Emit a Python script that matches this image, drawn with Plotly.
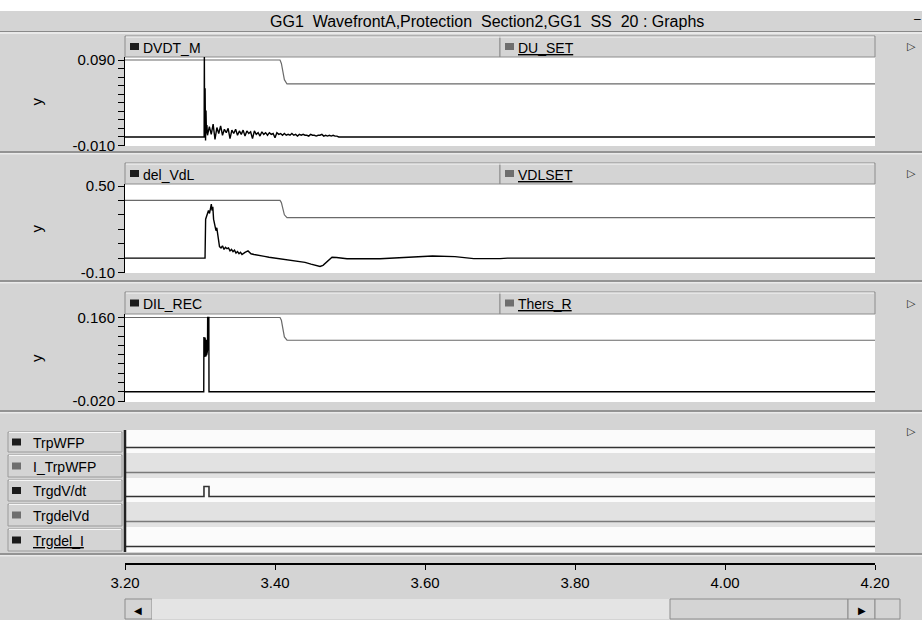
import numpy as np
import plotly.graph_objects as go

W, H = 922, 620

# ----------------------------- data -----------------------------
window_title = "GG1  WavefrontA,Protection  Section2,GG1  SS  20 : Graphs"
time_ticks = [3.20, 3.40, 3.60, 3.80, 4.00, 4.20]
time_tick_labels = ["3.20", "3.40", "3.60", "3.80", "4.00", "4.20"]

panel_names = [("DVDT_M", "DU_SET"), ("del_VdL", "VDLSET"), ("DIL_REC", "Thers_R")]
panel_tick_top = [0.090, 0.50, 0.160]
panel_tick_bottom = [-0.010, -0.10, -0.020]
panel_tick_top_labels = ["0.090", "0.50", "0.160"]
panel_tick_bottom_labels = ["-0.010", "-0.10", "-0.020"]
panel_minor_step = [0.01, 0.1, 0.02]

# threshold settings (gray lines)
setting_time = [3.200, 3.4067, 3.4085, 3.4105, 3.4125, 3.4160, 4.200]
du_set = [0.090, 0.090, 0.086, 0.076, 0.067, 0.062, 0.062]
vdlset = [0.40, 0.40, 0.385, 0.34, 0.30, 0.28, 0.28]
thers_r = [0.160, 0.160, 0.154, 0.135, 0.118, 0.111, 0.111]

# DVDT_M
dvdt_head_time = [3.200, 3.3055, 3.3058, 3.3062, 3.3068, 3.3074, 3.3080, 3.3086, 3.3092]
dvdt_head = [0.0, 0.0, 0.098, 0.0, 0.057, -0.004, 0.031, 0.004, 0.014]
dvdt_noise = [0.002, 0.012, 0.003, 0.015, -0.003, 0.011, 0.004, 0.013, 0.002, 0.009,
              0.005, 0.010, -0.002, 0.008, 0.004, 0.009, 0.002, 0.007, 0.003, 0.008,
              0.001, 0.007, 0.004, 0.006, -0.002, 0.007, 0.003, 0.005, 0.001, 0.006,
              0.003, 0.005, 0.002, 0.005, 0.003, 0.004, -0.001, 0.005, 0.003, 0.004,
              0.002, 0.004, 0.002, 0.003, 0.002, 0.004, 0.002, 0.003, 0.001, 0.003,
              0.002, 0.003, 0.002, 0.002, 0.001, 0.003, 0.002, 0.002, 0.001, 0.002,
              0.002, 0.003, 0.001, 0.002, 0.001, 0.002, 0.001, 0.002, 0.001, 0.001,
              0.0, 0.0]
dvdt_noise_start, dvdt_noise_step = 3.310, 0.0025
dvdt_tail_time = [3.490, 4.200]
dvdt_tail = [0.0, 0.0]

# del_VdL
del_vdl_time = [3.200, 3.3067, 3.3075, 3.3087, 3.3100, 3.3113, 3.3127, 3.3140, 3.3151,
                3.3160, 3.3171, 3.3181, 3.3192, 3.3203, 3.3213, 3.3224, 3.3235, 3.3247,
                3.3260, 3.3280, 3.3300, 3.332, 3.334, 3.336, 3.338, 3.340, 3.342, 3.344,
                3.346, 3.348, 3.350, 3.352, 3.354, 3.356, 3.358, 3.360, 3.364, 3.368,
                3.372, 3.376, 3.380, 3.386, 3.392, 3.400, 3.410, 3.420, 3.430, 3.440,
                3.448, 3.455, 3.460, 3.464, 3.468, 3.472, 3.476, 3.482, 3.496, 3.540,
                3.580, 3.610, 3.640, 3.665, 3.700, 3.710, 4.200]
del_vdl = [0.0, 0.0, 0.27, 0.29, 0.30, 0.33, 0.31, 0.36, 0.375,
           0.33, 0.355, 0.27, 0.24, 0.22, 0.19, 0.21, 0.17, 0.12,
           0.08, 0.07, 0.085, 0.06, 0.075, 0.065, 0.07, 0.05, 0.06, 0.045,
           0.055, 0.035, 0.045, 0.03, 0.04, 0.025, 0.035, 0.04, 0.05, 0.03,
           0.025, 0.02, 0.015, 0.012, 0.006, 0.0, -0.006, -0.012, -0.02, -0.03,
           -0.042, -0.052, -0.058, -0.05, -0.03, -0.01, 0.006, 0.004, -0.005, -0.005,
           0.004, 0.014, 0.01, -0.004, -0.004, 0.0, 0.0]

# DIL_REC
dil_rec_time = [3.200, 3.3050, 3.3052, 3.3056, 3.3060, 3.3064, 3.3068, 3.3072, 3.3076,
                3.3080, 3.3084, 3.3088, 3.3092, 3.3096, 3.3100, 3.3102, 3.3118, 3.3120, 4.200]
dil_rec = [0.0, 0.0, 0.118, 0.076, 0.116, 0.075, 0.117, 0.077, 0.114,
           0.076, 0.112, 0.079, 0.105, 0.085, 0.09, 0.16, 0.16, 0.0, 0.0]

# digital signals
digital_names = ["TrpWFP", "I_TrpWFP", "TrgdV/dt", "TrgdelVd", "Trgdel_I"]
digital_time = [3.200, 3.3053, 3.3053, 3.3120, 3.3120, 4.200]
trp_wfp = [0, 0, 0, 0, 0, 0]
i_trp_wfp = [0, 0, 0, 0, 0, 0]
trg_dvdt = [0, 0, 1, 1, 0, 0]
trg_delvd = [0, 0, 0, 0, 0, 0]
trg_del_i = [0, 0, 0, 0, 0, 0]
digital_values = [trp_wfp, i_trp_wfp, trg_dvdt, trg_delvd, trg_del_i]

# ----------------------------- geometry / style -----------------------------
FONT = "Liberation Sans, Arial, sans-serif"
GRAY = "#d4d4d4"
X0, X1, XS = 125, 875, 500


def X(px):
    return px / W


def Y(py):
    return 1 - py / H


analog = [
    dict(head=(36, 57), plot=(57, 146), ticks=(60, 145.5)),
    dict(head=(163, 184), plot=(184, 273), ticks=(186, 272.5)),
    dict(head=(292, 314), plot=(314, 402), ticks=(317.5, 401)),
]
rows = [(430, 453), (453, 478), (478, 502), (502, 527), (527, 552)]
row_colors = ["#333333", "#7a7a7a", "#333333", "#7a7a7a", "#333333"]
row_bg = ["#fbfbfb", "#e2e2e2", "#fbfbfb", "#e2e2e2", "#fbfbfb"]

fig = go.Figure()
layout = dict(width=W, height=H,
              margin=dict(l=0, r=0, t=0, b=0, pad=0, autoexpand=False),
              paper_bgcolor=GRAY, plot_bgcolor="rgba(0,0,0,0)",
              showlegend=False, font=dict(family=FONT, size=14, color="#000"))
shapes, annos = [], []


def rect(x0, y0, x1, y1, fill, line=None, lw=1):
    shapes.append(dict(type="rect", xref="paper", yref="paper", x0=X(x0), x1=X(x1),
                       y0=Y(y1), y1=Y(y0), fillcolor=fill, layer="below",
                       line=dict(color=line or fill, width=lw if line else 0)))


def hline(x0, x1, y, color, lw=1, layer="below"):
    shapes.append(dict(type="line", xref="paper", yref="paper", x0=X(x0), x1=X(x1),
                       y0=Y(y), y1=Y(y), line=dict(color=color, width=lw), layer=layer))


def text(x, y, s, size=14, xanchor="left", color="#000", angle=0):
    annos.append(dict(xref="paper", yref="paper", x=X(x), y=Y(y), text=s, showarrow=False,
                      xanchor=xanchor, yanchor="middle", textangle=angle,
                      font=dict(family=FONT, size=size, color=color)))


def icon(x, y, color):
    # small legend swatch like the PSCAD curve buttons
    shapes.append(dict(type="rect", xref="paper", yref="paper", x0=X(x), x1=X(x + 9),
                       y0=Y(y + 3.5), y1=Y(y - 3.5), fillcolor=color, layer="above",
                       line=dict(width=0)))


# window chrome
rect(0, 0, W, 11, "#ffffff")
rect(0, 11, W, 31, GRAY)
hline(0, W, 31.5, "#8a8a8a", 1.2)
hline(0, W, 33, "#ffffff")
text(487, 21, window_title, size=16, xanchor="center")
text(917, 19, "–", size=12, xanchor="center")
for sep in (152, 281, 411, 554):
    hline(0, W, sep, "#7e7e7e", 1.5)
    hline(0, W, sep + 1.8, "#f4f4f4", 1)

# analog panels
for k, p in enumerate(analog):
    n = k + 1
    ht, hb = p["head"]
    top, bot = p["plot"]
    pa, pb = p["ticks"]
    A, B = panel_tick_top[k], panel_tick_bottom[k]
    u = (A - B) / (pb - pa)
    ymax, ymin = A + (pa - top) * u, B - (bot - pb) * u
    rect(X0, top, X1, bot, "#ffffff")
    rect(X0, ht, XS, hb, GRAY, "#8c8c8c")
    rect(XS, ht, X1, hb, GRAY, "#8c8c8c")
    hline(X0 + 1, X1 - 1, ht + 1, "#f6f6f6")
    left, right = panel_names[k]
    icon(130, (ht + hb) / 2, "#1c1c1c")
    text(141, (ht + hb) / 2 + 1, left, size=14)
    icon(505, (ht + hb) / 2, "#6e6e6e")
    text(516, (ht + hb) / 2 + 1, "<u>" + right + "</u>", size=14)
    text(911, (ht + hb) / 2, "▷", size=11, xanchor="center", color="#222")
    text(36, (top + bot) / 2, "y", size=15, xanchor="center", angle=-90)
    nticks = int(round((A - B) / panel_minor_step[k])) + 1
    tv = [B + i * panel_minor_step[k] for i in range(nticks)]
    tt = [""] * nticks
    tt[0], tt[-1] = panel_tick_bottom_labels[k], panel_tick_top_labels[k]
    xa = "xaxis" if n == 1 else f"xaxis{n}"
    ya = "yaxis" if n == 1 else f"yaxis{n}"
    layout[xa] = dict(domain=[X(X0), X(X1)], range=[3.2, 4.2], visible=False,
                      automargin=False, anchor=f"y{'' if n == 1 else n}")
    layout[ya] = dict(domain=[Y(bot), Y(top)], range=[ymin, ymax], automargin=False,
                      anchor=f"x{'' if n == 1 else n}", showgrid=False, zeroline=False,
                      showline=True, linecolor="#000", linewidth=1, ticks="outside",
                      ticklen=6, tickcolor="#000", tickvals=tv, ticktext=tt,
                      tickfont=dict(size=15, family=FONT))

xref = lambda n: "x" if n == 1 else f"x{n}"
yref = lambda n: "y" if n == 1 else f"y{n}"

# panel 1 traces
dvdt_noise_time = list(np.round(dvdt_noise_start + dvdt_noise_step * np.arange(len(dvdt_noise)), 4))
dvdt_time_all = dvdt_head_time + dvdt_noise_time + dvdt_tail_time
dvdt_all = dvdt_head + dvdt_noise + dvdt_tail
fig.add_trace(go.Scatter(x=setting_time, y=du_set, mode="lines", line=dict(color="#6a6a6a", width=1.2),
                         xaxis=xref(1), yaxis=yref(1), hoverinfo="skip"))
fig.add_trace(go.Scatter(x=dvdt_time_all, y=dvdt_all, mode="lines", line=dict(color="#000", width=1.4),
                         xaxis=xref(1), yaxis=yref(1), hoverinfo="skip"))
# panel 2
fig.add_trace(go.Scatter(x=setting_time, y=vdlset, mode="lines", line=dict(color="#6a6a6a", width=1.2),
                         xaxis=xref(2), yaxis=yref(2), hoverinfo="skip"))
fig.add_trace(go.Scatter(x=del_vdl_time, y=del_vdl, mode="lines", line=dict(color="#000", width=1.4),
                         xaxis=xref(2), yaxis=yref(2), hoverinfo="skip"))
# panel 3
fig.add_trace(go.Scatter(x=setting_time, y=thers_r, mode="lines", line=dict(color="#6a6a6a", width=1.2),
                         xaxis=xref(3), yaxis=yref(3), hoverinfo="skip"))
fig.add_trace(go.Scatter(x=dil_rec_time, y=dil_rec, mode="lines", line=dict(color="#000", width=1.4),
                         xaxis=xref(3), yaxis=yref(3), hoverinfo="skip"))

# digital panel
text(911, 431, "▷", size=11, xanchor="center", color="#222")
for i, (rt, rb) in enumerate(rows):
    n = 4 + i
    rect(X0, rt, X1, rb, row_bg[i])
    rect(8, rt + 2, 122, rb - 1, GRAY, "#9a9a9a")
    hline(9, 121, rt + 2.5, "#f6f6f6")
    col = "#1c1c1c" if i % 2 == 0 else "#6e6e6e"
    name = digital_names[i] if i < 4 else "<u>" + digital_names[i] + "</u>"
    icon(12, (rt + rb) / 2 + 0.5, col)
    text(31, (rt + rb) / 2 + 1, name, size=14)
    base = rb - 5.5
    ymin = -(rb - base) / 10.0
    ymax = (base - rt) / 10.0
    layout[f"xaxis{n}"] = dict(domain=[X(X0), X(X1)], range=[3.2, 4.2], visible=False,
                               automargin=False, anchor=f"y{n}")
    layout[f"yaxis{n}"] = dict(domain=[Y(rb), Y(rt)], range=[ymin, ymax], visible=False,
                               automargin=False, anchor=f"x{n}")
    fig.add_trace(go.Scatter(x=digital_time, y=digital_values[i], mode="lines",
                             line=dict(color=row_colors[i], width=1.6),
                             xaxis=f"x{n}", yaxis=f"y{n}", hoverinfo="skip"))
shapes.append(dict(type="line", xref="paper", yref="paper", x0=X(125), x1=X(125),
                   y0=Y(552), y1=Y(430), line=dict(color="#222", width=2.5), layer="above"))

# time axis
layout["xaxis9"] = dict(domain=[X(X0), X(X1)], range=[3.2, 4.2], anchor="y9", side="bottom",
                        automargin=False,
                        showgrid=False, zeroline=False, showline=True, linecolor="#000", linewidth=1.5,
                        ticks="outside", ticklen=5, tickcolor="#000", tickwidth=1.2,
                        tickvals=time_ticks, ticktext=time_tick_labels,
                        tickfont=dict(size=15, family=FONT))
layout["yaxis9"] = dict(domain=[Y(563), Y(561)], range=[0, 1], visible=False,
                        automargin=False, anchor="x9")
fig.add_trace(go.Scatter(x=[time_ticks[0], time_ticks[-1]], y=[0.5, 0.5], mode="lines",
                         line=dict(width=0), opacity=0, xaxis="x9", yaxis="y9", hoverinfo="skip"))

# scrollbar
rect(125, 599, 152, 619, GRAY, "#8c8c8c")
rect(152, 599, 670, 619, "#e4e4e4")
rect(670, 599, 848, 619, GRAY, "#8c8c8c")
rect(848, 599, 875, 619, GRAY, "#8c8c8c")
rect(875, 599, 900, 619, GRAY, "#8c8c8c")
text(138, 610, "◀", size=10, xanchor="center")
text(862, 610, "▶", size=10, xanchor="center")

layout["shapes"] = shapes
layout["annotations"] = annos
fig.update_layout(**layout)
fig.write_html("out.html", config={"displayModeBar": False},
               post_script="document.body.style.margin='0';document.body.style.overflow='hidden';")
